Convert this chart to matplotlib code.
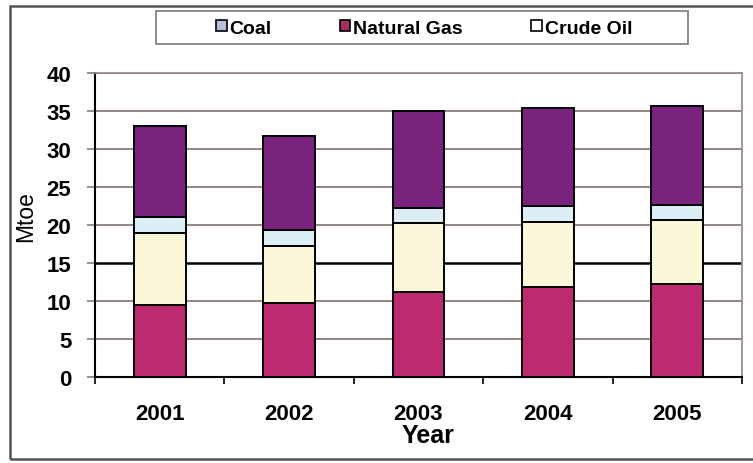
import matplotlib
matplotlib.use("Agg")
import matplotlib.pyplot as plt
from matplotlib.patches import Rectangle
import numpy as np

plt.rcParams['font.family'] = ['Liberation Sans', 'DejaVu Sans']

years = ["2001", "2002", "2003", "2004", "2005"]
natural_gas = [9.5, 9.8, 11.2, 11.9, 12.2]
crude_oil = [9.5, 7.4, 9.1, 8.5, 8.4]
coal = [2.0, 2.2, 2.0, 2.1, 2.0]
other = [12.0, 12.3, 12.7, 12.9, 13.1]
yticks = [0, 5, 10, 15, 20, 25, 30, 35, 40]

W, H = 753, 464
fig = plt.figure(figsize=(W / 100, H / 100), dpi=100)
ax = fig.add_axes([95 / W, 1 - 378 / H, (742 - 95) / W, (378 - 74) / H])

x = np.arange(len(years))
bw = 0.4
ek = dict(edgecolor="black", linewidth=1.4, width=bw, zorder=3)
b_gas = ax.bar(x, natural_gas, color="#BE2A70", label="Natural Gas", **ek)
bottom = np.array(natural_gas)
b_oil = ax.bar(x, crude_oil, bottom=bottom, color="#FAF8D8", label="Crude Oil", **ek)
bottom = bottom + np.array(crude_oil)
b_coal = ax.bar(x, coal, bottom=bottom, color="#DCEEF5", label="Coal", **ek)
bottom = bottom + np.array(coal)
b_other = ax.bar(x, other, bottom=bottom, color="#79237F", label="_other", **ek)

ax.set_xlim(-0.5, len(years) - 0.5)
ax.set_ylim(0, 40)
ax.set_yticks(yticks)
ax.set_yticklabels([str(v) for v in yticks], fontsize=16, fontweight="bold")
ax.set_xticks(x)
ax.set_xticklabels(years, fontsize=16, fontweight="bold")
ax.tick_params(axis="x", length=0, pad=19)
ax.set_xticks(np.arange(-0.5, len(years), 1.0), minor=True)
ax.tick_params(axis="x", which="minor", length=5, width=1.2, color="black")
ax.tick_params(axis="y", length=6, width=1.2, color="#8a7c7a", pad=11)

gridc = "#8a7c7a"
ax.yaxis.grid(True, color=gridc, linewidth=1.3, zorder=0)
ax.set_axisbelow(True)
for gl, v in zip(ax.get_ygridlines(), yticks):
    if v == 15:
        gl.set_color("black")
        gl.set_linewidth(1.8)

for s in ["top", "right"]:
    ax.spines[s].set_color("#9a8c8a")
    ax.spines[s].set_linewidth(1.3)
ax.spines["left"].set_color("black")
ax.spines["left"].set_linewidth(1.5)
ax.spines["bottom"].set_color("black")
ax.spines["bottom"].set_linewidth(1.5)

ax.set_xlabel("Year", fontsize=18, fontweight="bold")
ax.xaxis.set_label_coords((428 - 95) / (742 - 95), -(424 - 378) / (378 - 74))
ax.set_ylabel("Mtoe", fontsize=16.5)
ax.yaxis.set_label_coords(-(95 - 37) / (742 - 95), (378 - 217) / (378 - 74))

# legend
leg = fig.legend(handles=[b_coal, b_gas, b_oil], labels=["Coal", "Natural Gas", "Crude Oil"],
                 loc="center", bbox_to_anchor=(424 / W, 1 - 29 / H), ncol=3, frameon=False,
                 prop=dict(size=14, weight="bold"), handlelength=0.55, handleheight=0.55,
                 handletextpad=0.15, columnspacing=3.5)
for h, c in zip(leg.legend_handles, ["#B8BEDC", "#A3305E", "#FFFFFF"]):
    h.set_facecolor(c)
    h.set_edgecolor("black")
    h.set_linewidth(1.2)

fig.add_artist(Rectangle((156 / W, 1 - 45 / H), (688 - 156) / W, 33 / H,
                         transform=fig.transFigure, fill=False, edgecolor="#8a8080", linewidth=1.3))
fig.add_artist(Rectangle((10 / W, 1 - 460 / H), (770 - 10) / W, (460 - 7) / H,
                         transform=fig.transFigure, fill=False, edgecolor="#555555", linewidth=1.8))

fig.savefig("out.png", dpi=100, facecolor="white")
